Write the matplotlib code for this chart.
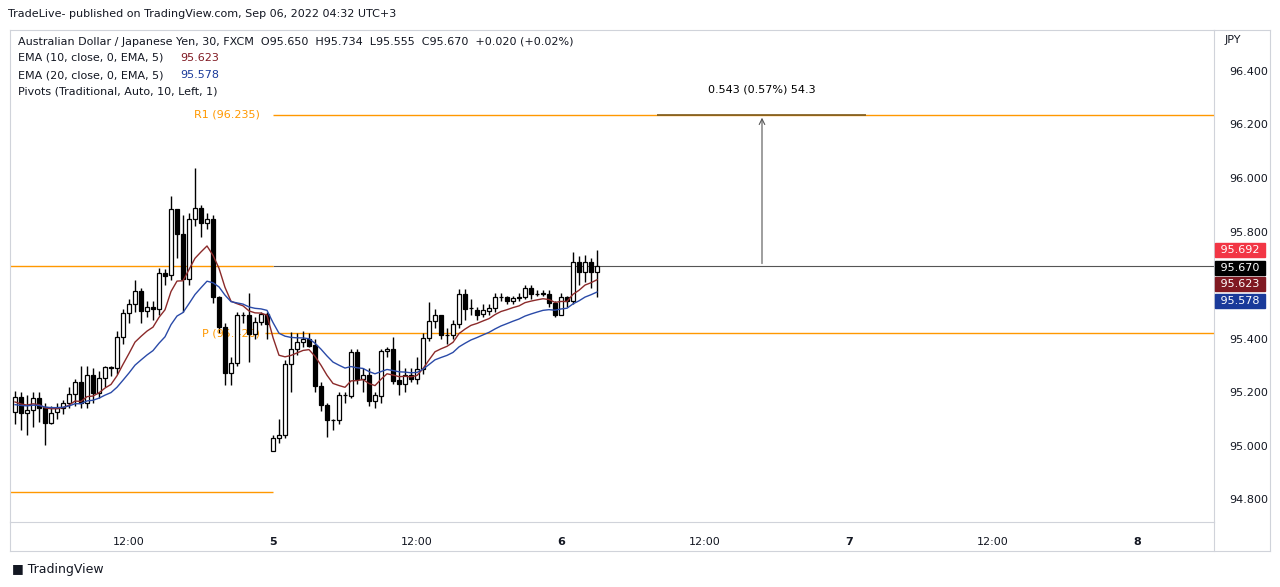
import matplotlib
matplotlib.use("Agg")
import matplotlib.pyplot as plt
import numpy as np
from matplotlib.lines import Line2D

opens = [95.128,95.184,95.122,95.134,95.178,95.144,95.087,95.125,95.141,95.159,
         95.193,95.237,95.159,95.265,95.196,95.252,95.296,95.290,95.408,95.495,
         95.528,95.578,95.505,95.520,95.510,95.644,95.638,95.883,95.791,95.622,
         95.846,95.889,95.831,95.846,95.554,95.445,95.271,95.308,95.489,95.489,
         95.418,95.464,95.491,94.981,95.028,95.041,95.306,95.361,95.389,95.398,
         95.377,95.224,95.153,95.097,95.097,95.190,95.188,95.350,95.249,95.265,
         95.166,95.188,95.355,95.361,95.246,95.231,95.265,95.249,95.286,95.402,
         95.467,95.489,95.414,95.412,95.454,95.566,95.514,95.508,95.493,95.505,
         95.514,95.557,95.555,95.539,95.555,95.555,95.589,95.567,95.567,95.567,
         95.533,95.487,95.555,95.539,95.686,95.648,95.688,95.650]
closes = [95.184,95.122,95.134,95.178,95.141,95.087,95.124,95.141,95.159,95.193,
          95.237,95.159,95.265,95.196,95.252,95.296,95.290,95.408,95.495,95.528,
          95.578,95.505,95.517,95.510,95.644,95.635,95.883,95.790,95.622,95.846,
          95.889,95.831,95.846,95.554,95.445,95.271,95.308,95.489,95.487,95.418,
          95.464,95.491,95.454,95.028,95.041,95.306,95.361,95.389,95.398,95.373,
          95.222,95.151,95.095,95.096,95.190,95.189,95.350,95.249,95.265,95.166,
          95.190,95.355,95.361,95.244,95.231,95.265,95.249,95.286,95.402,95.467,
          95.489,95.412,95.413,95.454,95.566,95.511,95.513,95.489,95.508,95.514,
          95.557,95.554,95.539,95.551,95.551,95.589,95.566,95.566,95.568,95.533,
          95.487,95.555,95.539,95.686,95.648,95.688,95.648,95.670]
highs = [95.203,95.200,95.190,95.200,95.200,95.160,95.150,95.160,95.170,95.220,
         95.250,95.300,95.300,95.290,95.280,95.300,95.300,95.430,95.510,95.550,
         95.620,95.590,95.540,95.540,95.663,95.660,95.933,95.880,95.860,95.870,
         96.036,95.900,95.870,95.860,95.560,95.460,95.330,95.500,95.500,95.572,
         95.480,95.500,95.500,95.040,95.100,95.320,95.426,95.420,95.430,95.420,
         95.400,95.240,95.160,95.100,95.200,95.200,95.360,95.360,95.290,95.290,
         95.200,95.360,95.370,95.406,95.320,95.290,95.290,95.330,95.420,95.536,
         95.510,95.490,95.440,95.470,95.586,95.586,95.550,95.520,95.530,95.530,
         95.570,95.570,95.560,95.560,95.570,95.600,95.600,95.580,95.580,95.580,
         95.540,95.570,95.560,95.723,95.710,95.713,95.700,95.732]
lows = [95.080,95.060,95.040,95.070,95.090,95.003,95.080,95.100,95.120,95.140,
        95.150,95.140,95.140,95.160,95.180,95.220,95.260,95.270,95.380,95.460,
        95.500,95.460,95.480,95.470,95.490,95.600,95.620,95.700,95.501,95.600,
        95.820,95.780,95.810,95.532,95.420,95.227,95.227,95.300,95.460,95.314,
        95.400,95.450,95.400,94.981,95.010,95.030,95.200,95.340,95.370,95.370,
        95.200,95.130,95.033,95.060,95.080,95.160,95.180,95.230,95.200,95.150,
        95.140,95.160,95.330,95.230,95.190,95.200,95.240,95.230,95.270,95.390,
        95.440,95.400,95.380,95.400,95.440,95.470,95.490,95.470,95.480,95.490,
        95.500,95.540,95.530,95.530,95.540,95.550,95.550,95.560,95.560,95.520,
        95.480,95.520,95.520,95.530,95.600,95.610,95.590,95.555]

def ema(v, n):
    a = 2 / (n + 1)
    out = [v[0] - 0.03 if n == 20 else v[0] - 0.02]
    for x in v[1:]:
        out.append(out[-1] + a * (x - out[-1]))
    return np.array(out)

n = len(closes)
t = (np.arange(n) - 43) * 0.5  # hours relative to Sep 5 00:00
ema10 = ema(closes, 10)
ema20 = ema(closes, 20)

FS = 8
fig = plt.figure(figsize=(12.8, 5.87), dpi=100)
W, H = 1280, 587
ax = fig.add_axes([10 / W, (H - 522) / H, 1204 / W, 492 / H])
ax.set_xlim((10 - 273) / 12, (1214 - 273) / 12)
ax.set_ylim(94.716, 96.552)

for i in range(n):
    o, c, h, l = opens[i], closes[i], highs[i], lows[i]
    ax.vlines(t[i], l, h, color="black", lw=1, zorder=3)
    bot, top = min(o, c), max(o, c)
    hgt = max(top - bot, 0.002)
    ax.add_patch(plt.Rectangle((t[i] - 0.17, bot), 0.34, hgt,
                               facecolor="white" if c >= o else "black",
                               edgecolor="black", lw=0.9, zorder=4))

ax.plot(t, ema10, color="#8b2a2a", lw=1, zorder=5)
ax.plot(t, ema20, color="#2a4aa8", lw=1, zorder=5)

orange = "#ff9800"
x0, x1 = ax.get_xlim()
ax.hlines(95.670, 0, x1, color="#555555", lw=0.8, zorder=2)
ax.hlines(95.670, x0, 0, color=orange, lw=1, zorder=2)
ax.hlines(94.828, x0, 0, color=orange, lw=1, zorder=2)
ax.hlines(96.235, 0, x1, color=orange, lw=1, zorder=2)
ax.hlines(95.420, -0.7, x1, color=orange, lw=1, zorder=2)
ax.text(-1.1, 96.235, "R1 (96.235)", color=orange, fontsize=FS, ha="right", va="center")
ax.text(-1.1, 95.420, "P (95.420)", color=orange, fontsize=FS, ha="right", va="center")

ax.hlines(96.235, (657 - 273) / 12, (866 - 273) / 12, color="#7a5a20", lw=1.2, zorder=6)
ax.annotate("", xy=((762 - 273) / 12, 96.235), xytext=((762 - 273) / 12, 95.670),
            arrowprops=dict(arrowstyle="->", color="#555555", lw=0.8))
ax.text((762 - 273) / 12, 96.31, "0.543 (0.57%) 54.3", fontsize=FS, ha="center", va="bottom")

ax.set_xticks([-12, 0, 12, 24, 36, 48, 60, 72])
ax.set_xticklabels(["12:00", "5", "12:00", "6", "12:00", "7", "12:00", "8"])
for lbl in ax.get_xticklabels():
    lbl.set_fontsize(FS)
    lbl.set_color("#131722")
    if lbl.get_text() in ("5", "6", "7", "8"):
        lbl.set_fontweight("bold")
ax.yaxis.tick_right()
yt = [94.8, 95.0, 95.2, 95.4, 95.8, 96.0, 96.2, 96.4]
ax.set_yticks(yt)
ax.set_yticklabels([f"{v:.3f}" for v in yt], fontsize=FS, color="#131722")
ax.tick_params(length=0, pad=11)
for s in ax.spines.values():
    s.set_color("#d0d3da")
    s.set_linewidth(0.8)

fig.add_artist(Line2D([10 / W, 1270 / W], [(H - 551) / H] * 2, color="#d0d3da", lw=0.8))
fig.add_artist(Line2D([1270 / W, 1270 / W], [(H - 551) / H, (H - 30) / H], color="#d0d3da", lw=0.8))
fig.add_artist(Line2D([1214 / W, 1214 / W], [(H - 551) / H, (H - 522) / H], color="#d0d3da", lw=0.8))
fig.add_artist(Line2D([10 / W, 10 / W], [(H - 551) / H, (H - 522) / H], color="#d0d3da", lw=0.8))
fig.add_artist(Line2D([1214 / W, 1270 / W], [(H - 30) / H] * 2, color="#d0d3da", lw=0.8))

fig.text(1225 / W, 1 - 40 / H, "JPY", fontsize=FS, va="center", color="#131722")

def tag(y, text, bg):
    fig.text(1217 / W, 1 - y / H, text, fontsize=FS, color="white", va="center", ha="left",
             bbox=dict(boxstyle="square,pad=0.15", fc=bg, ec=bg))
tag(250, " 95.692 ", "#f23645")
tag(268, " 95.670 ", "#000000")
tag(284, " 95.623 ", "#801922")
tag(301, " 95.578 ", "#1a3a9a")

fig.text(8 / W, 1 - 14 / H, "TradeLive- published on TradingView.com, Sep 06, 2022 04:32 UTC+3",
         fontsize=FS, va="center", color="#131722")
fig.text(18 / W, 1 - 42 / H,
         "Australian Dollar / Japanese Yen, 30, FXCM  O95.650  H95.734  L95.555  C95.670  +0.020 (+0.02%)",
         fontsize=FS, va="center", color="#131722")
fig.text(18 / W, 1 - 58 / H, "EMA (10, close, 0, EMA, 5)", fontsize=FS, va="center", color="#131722")
fig.text(180 / W, 1 - 58 / H, "95.623", fontsize=FS, va="center", color="#801922")
fig.text(18 / W, 1 - 75 / H, "EMA (20, close, 0, EMA, 5)", fontsize=FS, va="center", color="#131722")
fig.text(180 / W, 1 - 75 / H, "95.578", fontsize=FS, va="center", color="#1a3a9a")
fig.text(18 / W, 1 - 92 / H, "Pivots (Traditional, Auto, 10, Left, 1)", fontsize=FS, va="center", color="#131722")
fig.text(12 / W, 1 - 570 / H, "\u25a0 TradingView", fontsize=9, va="center", color="#131722")

fig.savefig("out.png", dpi=100, facecolor="white")
